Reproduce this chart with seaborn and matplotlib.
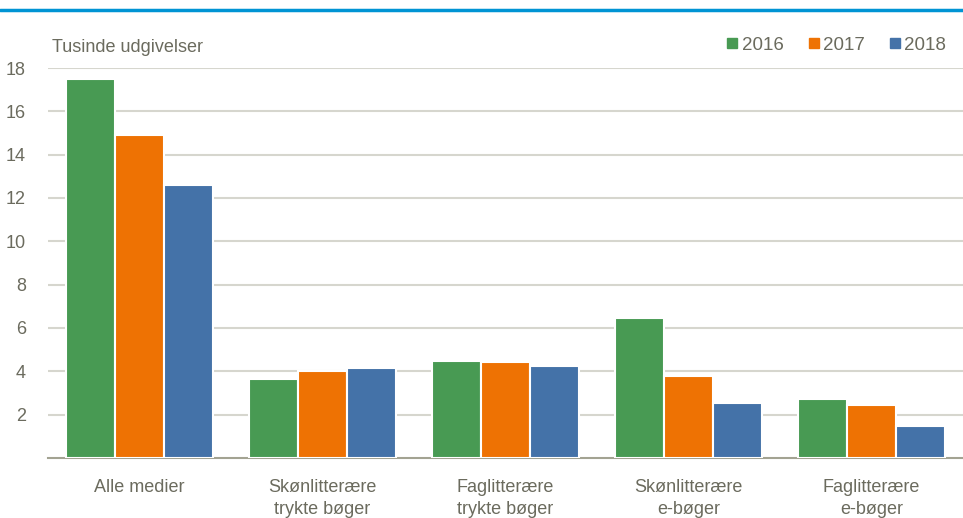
import pandas as pd
import matplotlib.pyplot as plt
import matplotlib.lines as mlines
import seaborn as sns

# Data (thousand releases)
categories = ["Alle medier", "Skønlitterære\ntrykte bøger", "Faglitterære\ntrykte bøger",
              "Skønlitterære\ne-bøger", "Faglitterære\ne-bøger"]
years = ["2016", "2017", "2018"]
v2016 = [17.5, 3.65, 4.5, 6.45, 2.72]
v2017 = [14.9, 4.0, 4.45, 3.8, 2.45]
v2018 = [12.6, 4.15, 4.25, 2.55, 1.48]
yticks = [2, 4, 6, 8, 10, 12, 14, 16, 18]

colors = ["#489A53", "#EE7203", "#4472A8"]
text_col = "#6B6B5E"

df = pd.DataFrame({
    "kategori": categories * 3,
    "år": [y for y in years for _ in categories],
    "værdi": v2016 + v2017 + v2018,
})

sns.set_style("white")
plt.rcParams['font.family'] = ['Liberation Sans Narrow', 'Liberation Sans', 'DejaVu Sans']

fig = plt.figure(figsize=(9.63, 5.18), dpi=100)
ax = fig.add_axes([48 / 963, 60 / 518, 915 / 963, 390 / 518])

sns.barplot(data=df, x="kategori", y="værdi", hue="år", palette=colors, saturation=1,
            width=0.8, edgecolor="white", linewidth=1.5, ax=ax, zorder=3)

ax.set_ylim(0, 18)
ax.set_xlim(-0.5, 4.5)
ax.set_yticks(yticks)
ax.yaxis.grid(True, color="#D6D6CE", linewidth=1.5, zorder=0)
ax.set_axisbelow(True)
ax.set_xlabel("")
ax.set_ylabel("")
for s in ["top", "right", "left"]:
    ax.spines[s].set_visible(False)
ax.spines["bottom"].set_color("#A3A392")
ax.spines["bottom"].set_linewidth(1.5)
ax.tick_params(axis="both", length=0, labelsize=13, labelcolor=text_col)
ax.tick_params(axis="y", pad=16)
ax.tick_params(axis="x", pad=15)
for lbl in ax.get_xticklabels():
    lbl.set_linespacing(1.4)

ax.text(52 / 963, 1 - 47 / 518, "Tusinde udgivelser", transform=fig.transFigure,
        fontsize=13, color=text_col, va="center", ha="left")

handles = [mlines.Line2D([], [], marker="s", linestyle="", color=c, markersize=7) for c in colors]
leg = fig.legend(handles, years, loc="center right", bbox_to_anchor=(1.0, 1 - 45 / 518),
                 ncol=3, frameon=False, fontsize=13.5, handletextpad=0.1, columnspacing=1.2,
                 handlelength=0.8)
for t in leg.get_texts():
    t.set_color(text_col)
if ax.get_legend() is not None:
    ax.get_legend().remove()

fig.add_artist(mlines.Line2D([0, 1], [1 - 10 / 518, 1 - 10 / 518], transform=fig.transFigure,
                             color="#0094D4", linewidth=2.5))

fig.savefig("out.png", dpi=100)
